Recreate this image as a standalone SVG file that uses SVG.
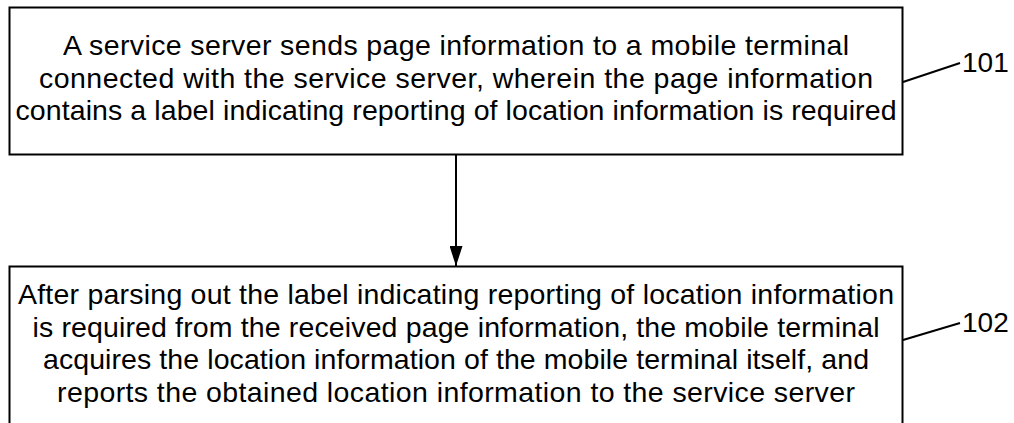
<svg xmlns="http://www.w3.org/2000/svg" width="1014" height="423" viewBox="0 0 1014 423">
<style>
.box{fill:#fff;stroke:#000;stroke-width:2}
.t{font-family:"Liberation Sans",Arial,sans-serif;font-size:28.5px;fill:#000;text-anchor:middle}
.lbl{font-family:"Liberation Sans",Arial,sans-serif;font-size:28px;fill:#000}
.ln{stroke:#000;stroke-width:2;fill:none}
</style>
<defs>
<marker id="ah" viewBox="0 0 20 13" refX="20" refY="6.5" markerWidth="20" markerHeight="13" markerUnits="userSpaceOnUse" orient="auto">
<path d="M0,0 L20,6.5 L0,13 Z" fill="#000"/>
</marker>
</defs>
<rect width="1014" height="423" fill="#fff"/>
<g id="node101">
<rect class="box" x="9.5" y="7.5" width="893" height="147"/>
<text class="t" x="456" y="55" textLength="786">A service server sends page information to a mobile terminal</text>
<text class="t" x="456" y="87.5" textLength="834">connected with the service server, wherein the page information</text>
<text class="t" x="456" y="120" textLength="881">contains a label indicating reporting of location information is required</text>
<line class="ln" x1="903" y1="82" x2="960" y2="63"/>
<text class="lbl" x="962" y="72">101</text>
</g>
<g id="node102">
<rect class="box" x="9.5" y="266.5" width="893" height="170"/>
<text class="t" x="456" y="304" textLength="876">After parsing out the label indicating reporting of location information</text>
<text class="t" x="456" y="336.5" textLength="847">is required from the received page information, the mobile terminal</text>
<text class="t" x="456" y="369" textLength="826">acquires the location information of the mobile terminal itself, and</text>
<text class="t" x="456" y="401.5" textLength="798">reports the obtained location information to the service server</text>
<line class="ln" x1="903" y1="340" x2="960" y2="323"/>
<text class="lbl" x="962" y="332">102</text>
</g>
<g id="connectors">
<line class="ln" x1="456" y1="155" x2="456" y2="266" marker-end="url(#ah)"/>
</g>
</svg>
